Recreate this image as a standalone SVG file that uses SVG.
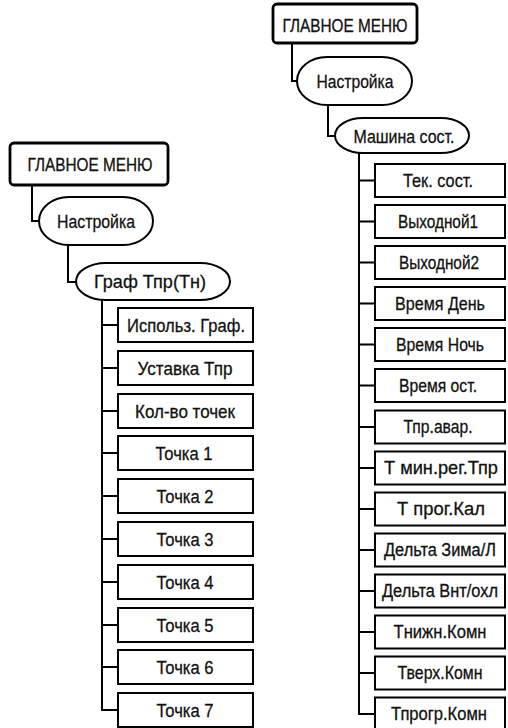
<svg xmlns="http://www.w3.org/2000/svg" width="508" height="728" viewBox="0 0 508 728">
<style>
.bg{fill:#fff}
.root{fill:#fff;stroke:#000;stroke-width:2.8}
.pill{fill:#fff;stroke:#000;stroke-width:2}
.box{fill:#fff;stroke:#000;stroke-width:2}
.ln{fill:none;stroke:#000;stroke-width:2}
text{font-family:"Liberation Sans","DejaVu Sans",sans-serif;font-size:19px;fill:#111;stroke:#111;stroke-width:0.3;text-anchor:middle}
.sm{font-size:17.5px}
</style>
<rect class="bg" x="0" y="0" width="508" height="728"/>
<g id="connectors">
<path class="ln" d="M32 185V221H40"/>
<path class="ln" d="M68 245V282H77"/>
<path class="ln" d="M102 300V710H118M102 325H118M102 368H118M102 411H118M102 453H118M102 496H118M102 539H118M102 582H118M102 625H118M102 667H118"/>
<path class="ln" d="M292 43V81H298"/>
<path class="ln" d="M328 105V136H336"/>
<path class="ln" d="M359 153V714H375M359 180.5H375M359 221.5H375M359 262.5H375M359 303.5H375M359 344.5H375M359 385.5H375M359 427H375M359 468H375M359 509H375M359 550H375M359 591H375M359 632H375M359 673H375"/>
</g>
<g id="l-main"><rect class="root" x="10" y="143" width="158" height="42" rx="4"/><text x="90" y="170.5" textLength="125" lengthAdjust="spacingAndGlyphs">ГЛАВНОЕ МЕНЮ</text></g>
<g id="l-nastr"><rect class="pill" x="39" y="197" width="114" height="48" rx="30" ry="24"/><text x="96" y="228" textLength="78" lengthAdjust="spacingAndGlyphs">Настройка</text></g>
<g id="l-graf"><rect class="pill" x="76" y="263" width="154" height="37" rx="30" ry="18.5"/><text x="150" y="288" textLength="112" lengthAdjust="spacingAndGlyphs">Граф Тпр(Тн)</text></g>
<g id="l1"><rect class="box" x="118" y="308" width="135" height="34"/><text x="186" y="332" textLength="118" lengthAdjust="spacingAndGlyphs">Использ. Граф.</text></g>
<g id="l2"><rect class="box" x="118" y="351" width="135" height="34"/><text x="185" y="375" textLength="95" lengthAdjust="spacingAndGlyphs">Уставка Тпр</text></g>
<g id="l3"><rect class="box" x="118" y="394" width="135" height="34"/><text x="185" y="418" textLength="100" lengthAdjust="spacingAndGlyphs">Кол-во точек</text></g>
<g id="l4"><rect class="box" x="118" y="436" width="135" height="34"/><text x="184" y="460" textLength="57" lengthAdjust="spacingAndGlyphs">Точка 1</text></g>
<g id="l5"><rect class="box" x="118" y="479" width="135" height="34"/><text x="185" y="503" textLength="57" lengthAdjust="spacingAndGlyphs">Точка 2</text></g>
<g id="l6"><rect class="box" x="118" y="522" width="135" height="34"/><text x="185" y="546" textLength="57" lengthAdjust="spacingAndGlyphs">Точка 3</text></g>
<g id="l7"><rect class="box" x="118" y="565" width="135" height="34"/><text x="185" y="589" textLength="57" lengthAdjust="spacingAndGlyphs">Точка 4</text></g>
<g id="l8"><rect class="box" x="118" y="608" width="135" height="34"/><text x="185" y="632" textLength="57" lengthAdjust="spacingAndGlyphs">Точка 5</text></g>
<g id="l9"><rect class="box" x="118" y="650" width="135" height="34"/><text x="185" y="674" textLength="57" lengthAdjust="spacingAndGlyphs">Точка 6</text></g>
<g id="l10"><rect class="box" x="118" y="693" width="135" height="34"/><text x="185" y="717" textLength="57" lengthAdjust="spacingAndGlyphs">Точка 7</text></g>
<g id="r-main"><rect class="root" x="273" y="4" width="144" height="39" rx="4"/><text x="345" y="31.5" textLength="125" lengthAdjust="spacingAndGlyphs">ГЛАВНОЕ МЕНЮ</text></g>
<g id="r-nastr"><rect class="pill" x="297" y="57" width="115" height="48" rx="30" ry="24"/><text x="355" y="88" textLength="77" lengthAdjust="spacingAndGlyphs">Настройка</text></g>
<g id="r-mash"><rect class="pill" x="335" y="118" width="134" height="35" rx="28" ry="17.5"/><text x="404" y="142.5" textLength="101" lengthAdjust="spacingAndGlyphs">Машина сост.</text></g>
<g id="r1"><rect class="box" x="375" y="164" width="130" height="33"/><text x="438" y="186.5" textLength="70" lengthAdjust="spacingAndGlyphs">Тек. сост.</text></g>
<g id="r2"><rect class="box" x="375" y="205" width="130" height="33"/><text x="438" y="227.5" textLength="80" lengthAdjust="spacingAndGlyphs">Выходной1</text></g>
<g id="r3"><rect class="box" x="375" y="246" width="130" height="33"/><text x="439" y="268.5" textLength="80" lengthAdjust="spacingAndGlyphs">Выходной2</text></g>
<g id="r4"><rect class="box" x="375" y="287" width="130" height="33"/><text x="440" y="309.5" textLength="90" lengthAdjust="spacingAndGlyphs">Время День</text></g>
<g id="r5"><rect class="box" x="375" y="328" width="130" height="33"/><text x="440" y="350.5" textLength="88" lengthAdjust="spacingAndGlyphs">Время Ночь</text></g>
<g id="r6"><rect class="box" x="375" y="369" width="130" height="33"/><text x="438" y="391.5" textLength="78" lengthAdjust="spacingAndGlyphs">Время ост.</text></g>
<g id="r7"><rect class="box" x="375" y="410.5" width="130" height="33"/><text x="438" y="433" textLength="69" lengthAdjust="spacingAndGlyphs">Тпр.авар.</text></g>
<g id="r8"><rect class="box" x="375" y="451.5" width="130" height="33"/><text x="441" y="474" textLength="114" lengthAdjust="spacingAndGlyphs">Т мин.рег.Тпр</text></g>
<g id="r9"><rect class="box" x="375" y="492.5" width="130" height="33"/><text x="441" y="515" textLength="88" lengthAdjust="spacingAndGlyphs">Т прог.Кал</text></g>
<g id="r10"><rect class="box" x="375" y="533.5" width="130" height="33"/><text class="sm" x="440" y="555.5" textLength="112" lengthAdjust="spacingAndGlyphs">Дельта Зима/Л</text></g>
<g id="r11"><rect class="box" x="375" y="574.5" width="130" height="33"/><text class="sm" x="440" y="596.5" textLength="116" lengthAdjust="spacingAndGlyphs">Дельта Внт/охл</text></g>
<g id="r12"><rect class="box" x="375" y="615.5" width="130" height="33"/><text x="440" y="638" textLength="93" lengthAdjust="spacingAndGlyphs">Тнижн.Комн</text></g>
<g id="r13"><rect class="box" x="375" y="656.5" width="130" height="33"/><text x="440" y="679" textLength="85" lengthAdjust="spacingAndGlyphs">Тверх.Комн</text></g>
<g id="r14"><rect class="box" x="375" y="697.5" width="130" height="33"/><text x="439" y="720" textLength="96" lengthAdjust="spacingAndGlyphs">Тпрогр.Комн</text></g>
</svg>
